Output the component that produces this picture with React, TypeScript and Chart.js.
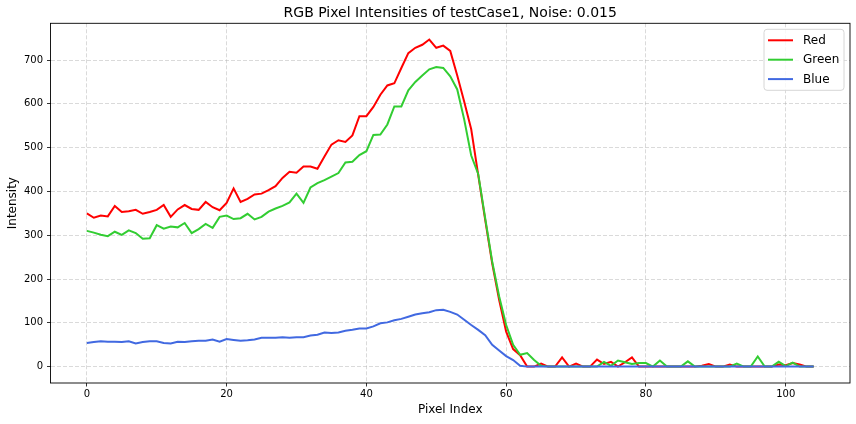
import React, { useEffect, useRef } from "react";
import { Chart, registerables } from "chart.js";

Chart.register(...registerables);

const FONT = '"DejaVu Sans", "Liberation Sans", sans-serif';

const titleText = "RGB Pixel Intensities of testCase1, Noise: 0.015";
const xLabel = "Pixel Index";
const yLabel = "Intensity";

const xTicks = [0, 20, 40, 60, 80, 100];
const yTicks = [0, 100, 200, 300, 400, 500, 600, 700];

const redValues = [
  350, 340, 345, 343, 367, 353, 355, 358, 349, 353,
  358, 369, 342, 359, 369, 360, 358, 376, 364, 357,
  374, 407, 376, 383, 393, 395, 403, 412, 431, 445,
  443, 457, 457, 452, 480, 507, 517, 513, 528, 572,
  572, 593, 621, 642, 647, 682, 716, 728, 735, 747,
  728, 733, 721, 665, 605, 542, 438, 335, 236, 152,
  80, 40, 26, 0, 0, 7, 0, 0, 21, 0,
  7, 0, 0, 16, 6, 11, 0, 10, 21, 0,
  0, 0, 0, 0, 0, 0, 0, 0, 2, 6,
  0, 0, 5, 0, 0, 0, 0, 0, 0, 5,
  3, 8, 5, 0, 0,
];

const greenValues = [
  310, 306, 301, 298, 308, 301, 311, 305, 292, 293,
  323, 315, 320, 318, 328, 305, 314, 326, 317, 342,
  345, 337, 339, 349, 336, 342, 354, 361, 367, 375,
  395, 374, 409, 419, 426, 434, 442, 466, 468, 483,
  492, 529, 530, 553, 594, 594, 631, 650, 665, 679,
  684, 682, 663, 633, 564, 482, 440, 339, 240, 160,
  95, 50, 27, 31, 15, 2, 0, 0, 0, 0,
  0, 0, 0, 0, 11, 2, 14, 10, 6, 8,
  8, 0, 14, 0, 0, 0, 12, 0, 0, 0,
  0, 0, 0, 7, 0, 0, 23, 0, 0, 11,
  1, 9, 0, 0, 0,
];

const blueValues = [
  54, 56, 58, 57, 57, 56, 58, 53, 56, 58,
  58, 54, 53, 57, 56, 58, 59, 59, 62, 57,
  63, 61, 59, 60, 62, 66, 66, 66, 67, 66,
  67, 67, 71, 73, 78, 77, 78, 82, 84, 87,
  87, 92, 99, 101, 106, 109, 114, 119, 122, 124,
  129, 130, 125, 119, 107, 95, 84, 72, 50, 37,
  24, 15, 2, 0, 0, 0, 0, 0, 0, 0,
  0, 0, 0, 0, 0, 0, 0, 0, 0, 0,
  0, 0, 0, 0, 0, 0, 0, 0, 0, 0,
  0, 0, 0, 0, 0, 0, 0, 0, 0, 0,
  0, 0, 0, 0, 0,
];

const seriesNames = ["Red", "Green", "Blue"];
const seriesColors = ["#ff0000", "#32cd32", "#4169e1"];

const pixelIndex = redValues.map((_, i) => i);

const overlayPlugin = {
  id: "mplOverlay",
  afterDatasetsDraw(chart: any) {
    const { ctx, chartArea } = chart;
    const { left, right, top, bottom } = chartArea;
    ctx.save();
    // frame (spines)
    ctx.strokeStyle = "#000";
    ctx.lineWidth = 0.9;
    ctx.setLineDash([]);
    ctx.strokeRect(left, top, right - left, bottom - top);

    // legend
    const bx = right - 86;
    const by = top + 6;
    const bw = 80;
    const bh = 61;
    const r = 3;
    ctx.beginPath();
    ctx.moveTo(bx + r, by);
    ctx.lineTo(bx + bw - r, by);
    ctx.arcTo(bx + bw, by, bx + bw, by + r, r);
    ctx.lineTo(bx + bw, by + bh - r);
    ctx.arcTo(bx + bw, by + bh, bx + bw - r, by + bh, r);
    ctx.lineTo(bx + r, by + bh);
    ctx.arcTo(bx, by + bh, bx, by + bh - r, r);
    ctx.lineTo(bx, by + r);
    ctx.arcTo(bx, by, bx + r, by, r);
    ctx.closePath();
    ctx.fillStyle = "rgba(255,255,255,0.8)";
    ctx.fill();
    ctx.strokeStyle = "#d6d6d6";
    ctx.lineWidth = 1;
    ctx.stroke();

    ctx.font = `12px ${FONT}`;
    ctx.textAlign = "left";
    ctx.textBaseline = "middle";
    chart.data.datasets.forEach((ds: any, i: number) => {
      const y = by + 11 + i * 19.4;
      ctx.strokeStyle = ds.borderColor;
      ctx.lineWidth = 2;
      ctx.beginPath();
      ctx.moveTo(bx + 4, y);
      ctx.lineTo(bx + 29, y);
      ctx.stroke();
      ctx.fillStyle = "#000";
      ctx.fillText(ds.label, bx + 39, y + 0.5);
    });
    ctx.restore();
  },
  afterDraw(chart: any) {
    const { ctx, chartArea } = chart;
    const { left, right, top, bottom } = chartArea;
    const cx = (left + right) / 2;
    ctx.save();
    ctx.fillStyle = "#000";
    ctx.textAlign = "center";
    ctx.textBaseline = "middle";
    ctx.font = `14px ${FONT}`;
    ctx.fillText(titleText, cx, 13);
    ctx.font = `12px ${FONT}`;
    ctx.fillText(xLabel, cx, 410);
    ctx.translate(13, (top + bottom) / 2);
    ctx.rotate(-Math.PI / 2);
    ctx.fillText(yLabel, 0, 0);
    ctx.restore();
  },
};

export default function App() {
  const canvasRef = useRef<HTMLCanvasElement | null>(null);

  useEffect(() => {
    const canvas = canvasRef.current;
    if (!canvas) return;
    const datasets = [redValues, greenValues, blueValues].map((vals, k) => ({
      label: seriesNames[k],
      data: pixelIndex.map((x, i) => ({ x, y: vals[i] })),
      borderColor: seriesColors[k],
      backgroundColor: seriesColors[k],
      borderWidth: 2,
      pointRadius: 0,
      tension: 0,
      fill: false,
      order: 3 - k,
    }));

    const gridCommon = {
      color: "rgba(176,176,176,0.6)",
      lineWidth: 0.8,
      tickLength: 3.5,
      tickColor: "#000",
      tickWidth: 0.8,
      drawTicks: true,
    };

    const chart = new Chart(canvas, {
      type: "line",
      data: { datasets },
      options: {
        animation: false,
        responsive: false,
        maintainAspectRatio: false,
        layout: { padding: { top: 23.3, right: 6, left: 0, bottom: 0 } },
        plugins: {
          legend: { display: false },
          title: { display: false },
          tooltip: { enabled: false },
        },
        scales: {
          x: {
            type: "linear",
            min: -5.2,
            max: 109.2,
            afterBuildTicks: (scale: any) => {
              scale.ticks = xTicks.map((v) => ({ value: v }));
            },
            afterFit: (scale: any) => {
              scale.height = 41;
            },
            ticks: {
              color: "#000",
              font: { family: FONT, size: 10 },
              padding: 2,
              maxRotation: 0,
              autoSkip: false,
            },
            grid: gridCommon,
            border: { display: false, dash: [4, 2] },
          },
          y: {
            type: "linear",
            min: -37.4,
            max: 784,
            afterBuildTicks: (scale: any) => {
              scale.ticks = yTicks.map((v) => ({ value: v }));
            },
            afterFit: (scale: any) => {
              scale.width = 50.5;
            },
            ticks: {
              color: "#000",
              font: { family: FONT, size: 10 },
              padding: 4,
              autoSkip: false,
            },
            grid: gridCommon,
            border: { display: false, dash: [4, 2] },
          },
        },
      } as any,
      plugins: [overlayPlugin],
    });
    return () => chart.destroy();
  }, []);

  return (
    <div style={{ position: "absolute", left: 0, top: 0, width: 856, height: 424, background: "#fff" }}>
      <canvas ref={canvasRef} width={856} height={424} style={{ width: 856, height: 424 }} />
    </div>
  );
}
